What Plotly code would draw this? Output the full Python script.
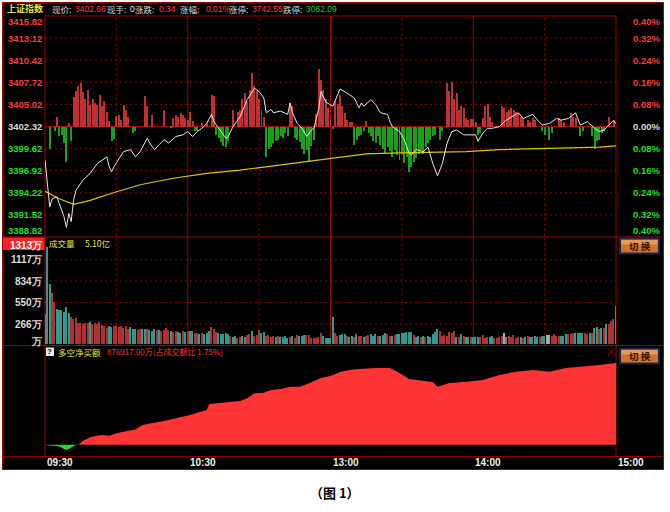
import plotly.graph_objects as go

W, H = 670, 512

# ---------------- data ----------------
time_labels = ["09:30", "10:30", "13:00", "14:00", "15:00"]
time_label_minutes = [0, 60, 120, 180, 240]

prev_close = 3402.32
price_ticks = [3415.82, 3413.12, 3410.42, 3407.72, 3405.02, 3402.32,
               3399.62, 3396.92, 3394.22, 3391.52, 3388.82]
pct_ticks = ["0.40%", "0.32%", "0.24%", "0.16%", "0.08%", "0.00%",
             "0.08%", "0.16%", "0.24%", "0.32%", "0.40%"]

price_minutes = [0, 1, 2, 3, 5, 6, 8, 9, 10, 11, 12, 13, 16, 19, 22, 24, 26, 27, 28, 29,
                 31, 33, 36, 38, 40, 43, 44, 46, 48, 50, 52, 55, 58, 60, 62, 64, 66, 68, 70, 71,
                 74, 76, 77, 79, 82, 85, 88, 90, 92, 93, 95, 96, 99, 102, 103, 104, 106, 108, 110, 112,
                 113, 115, 116, 118, 121, 124, 127, 130, 132, 133, 134, 137, 139, 141, 144, 145, 146, 149, 151, 153,
                 154, 156, 159, 161, 163, 165, 167, 169, 171, 173, 176, 179, 181, 182, 184, 186, 188, 191, 193, 195,
                 199, 201, 205, 207, 209, 212, 215, 217, 220, 223, 225, 228, 231, 233, 235, 237, 239, 240]
price_values = [3398.2, 3394.9, 3392.5, 3393.5, 3393.7, 3392.9, 3391.3, 3390.0, 3391.7, 3390.7,
                3393.3, 3394.5, 3395.8, 3396.6, 3397.8, 3398.2, 3398.6, 3397.4, 3396.8, 3397.4,
                3398.4, 3399.25, 3399.5, 3398.6, 3399.25, 3400.9, 3400.3, 3399.5, 3400.1, 3400.7,
                3400.3, 3401.1, 3401.3, 3401.7, 3401.1, 3401.7, 3402.1, 3402.7, 3403.8, 3402.9,
                3401.7, 3400.9, 3401.1, 3402.3, 3403.5, 3405.6, 3407.0, 3406.6, 3405.8, 3404.0,
                3404.4, 3404.0, 3404.2, 3403.8, 3405.2, 3404.0, 3402.7, 3402.1, 3401.1, 3401.9,
                3402.1, 3404.4, 3406.6, 3405.3, 3404.8, 3406.9, 3406.4, 3405.8, 3404.6, 3405.2,
                3404.8, 3405.6, 3405.0, 3404.0, 3403.8, 3402.9, 3402.3, 3401.7, 3400.7, 3399.05,
                3398.85, 3399.5, 3399.25, 3399.8, 3397.8, 3396.3, 3397.8, 3400.3, 3401.7, 3401.9,
                3401.3, 3401.3, 3401.3, 3400.5, 3401.5, 3402.1, 3402.1, 3402.3, 3402.9, 3403.3,
                3404.0, 3403.3, 3403.8, 3403.1, 3402.5, 3402.7, 3403.3, 3403.1, 3403.3, 3404.0,
                3402.5, 3402.9, 3402.1, 3401.7, 3401.9, 3402.5, 3403.05, 3402.66]

avg_minutes = [0, 6, 12, 19, 30, 40, 54, 68, 82, 96, 110, 121, 135, 149, 163, 177, 191, 205, 219, 233, 240]
avg_values = [3394.4, 3393.5, 3392.8, 3393.3, 3394.35, 3395.2, 3396.0, 3396.6, 3397.0, 3397.5,
              3398.0, 3398.4, 3398.97, 3399.1, 3399.2, 3399.25, 3399.5, 3399.6, 3399.67, 3399.8, 3399.95]

bar_minutes = [2, 4, 5, 6, 7, 8, 9, 10, 11,
               12, 13, 14, 15, 16, 17, 18, 19, 20, 21, 22, 23, 24, 25, 26, 27,
               28, 29, 30, 31, 32, 33, 34, 35, 37, 38, 42, 43, 45, 50, 53,
               54, 55, 56, 57, 58, 59, 60, 61, 62, 63, 64, 66, 68, 70, 71,
               72, 73, 74, 75, 76, 77, 79,
               81, 82, 83, 84, 85, 86, 87, 88, 89, 90, 91, 92,
               93, 94, 95, 96, 97, 98, 99, 100, 101, 102, 103, 104,
               105, 106, 107, 108, 109, 110, 111, 112, 113,
               114, 115, 116, 117, 118, 119, 120, 121,
               122, 123, 124, 125, 126, 127, 128, 129,
               130, 131, 132, 133, 134, 135,
               136, 137, 138, 139, 140, 141, 142, 143, 144, 145, 146, 147, 148, 149, 150, 151,
               152, 153, 154, 155, 156, 157, 158, 159, 160, 161, 162, 163, 164, 166, 167,
               169, 170, 171, 172, 173, 174, 175, 176, 177, 178, 179, 180, 181, 182, 183,
               184, 185, 186, 187, 188,
               192, 193, 194, 195, 196, 197, 198, 199, 200, 201, 203, 204, 205, 206,
               209, 210, 212, 213, 216, 217, 218, 221, 222, 223, 225, 226,
               230, 231, 232, 233, 234, 235, 237, 239]
bar_values = [-2.8, -0.6, 1.2, -1.2, -1.0, -2.0, -4.3, 0.4, -1.8,
              3.6, 4.3, 4.9, 5.3, 4.2, 3.3, 4.4, 2.6, 3.3, 2.9, 2.6, 3.9, 2.5, 3.1, 1.8, 0.7,
              -1.8, -1.5, 1.3, 1.4, 0.8, 2.6, 2.0, 1.2, -0.8, -0.6, 3.7, 2.5, 1.4, 2.0, -0.2,
              1.0, 1.4, 1.2, 1.6, 1.4, 1.0, 0.8, 1.8, 0.7, -0.6, -0.6, 0.4, 0.4, 3.9, 3.7,
              -1.0, -1.4, -1.9, -2.4, -2.5, -1.8, 2.0,
              1.8, 2.0, 3.3, 4.1, 3.0, 4.5, 6.5, 5.0, 4.3, 3.3, 2.0, 1.2,
              -3.7, -2.7, -2.5, -2.0, -1.8, -1.6, -1.2, -1.4, -0.8, -1.2, 2.9, 2.5,
              -1.4, -1.6, -1.9, -2.7, -3.3, -2.9, -4.3, -2.4, -1.6,
              1.5, 7.0, 5.7, 4.5, 3.3, 2.3, 1.2, -0.3,
              3.1, 2.7, 3.9, 2.5, 1.6, 0.8, 0.5, 0.5,
              -2.2, -1.6, -1.2, -1.0, -0.6, 0.7,
              -0.8, -1.2, -1.8, -2.0, -1.2, -2.2, -2.7, -3.3, -2.5, -3.0, -3.7, -2.9, -3.5, -4.1, -3.3, -4.5,
              -3.7, -5.5, -4.9, -4.3, -3.9, -3.3, -2.9, -3.3, -2.5, -2.0, -1.6, -1.2, -1.0, -1.6, -0.6,
              5.3, 4.3, 5.4, 3.3, 4.1, 2.0, 2.5, 2.3, 1.0, 0.8, 0.9, 0.9, 0.6, -1.0, -0.8,
              1.0, 2.5, 2.7, 1.2, 0.6,
              2.5, 2.3, 1.8, 2.0, 2.3, 2.0, 1.8, 1.6, 1.2, 1.0, 0.8, 0.6, 1.0, 0.8,
              -0.6, -1.0, -1.6, -0.8, 1.0, 0.8, 0.6, 1.6, 1.2, 1.0, -1.2, -0.6,
              -1.2, -2.7, -1.8, -1.6, -0.8, -0.6, 1.2, 0.8]

# per-minute volume (万) and direction: r = up (red), t = down (teal), g = flat (grey)
volume = [402, 1290, 800, 670, 560, 470, 450, 445, 425, 485, 405, 360,
          327, 340, 284, 284, 271, 284, 284, 297, 271, 284, 266, 293, 258, 245, 213, 240, 227, 245,
          240, 227, 240, 213, 235, 205, 227, 196, 205, 192, 196, 205, 205, 205, 183, 170, 196, 183,
          192, 170, 183, 213, 192, 170, 161, 174, 161, 153, 170, 161, 178, 170, 178, 153, 148, 140,
          153, 140, 148, 170, 227, 205, 161, 153, 140, 135, 148, 140,
          109, 96, 109, 87, 96, 109, 96, 118, 131, 175, 109, 122, 183, 153, 166, 109, 118, 96, 109, 96,
          109, 96, 96, 109, 79, 96, 109, 87, 122, 109, 109, 122, 118, 118, 87, 79, 87, 96, 144, 109,
          87, 79, 87, 358, 144, 109, 122, 131, 131, 109, 100, 109, 96, 131, 109, 109, 96, 109, 122, 131,
          109, 131, 109, 109, 122, 153, 131, 109, 109, 118, 140, 140,
          144, 153, 166, 166, 166, 122, 100, 109, 100, 109, 100, 109, 100, 131, 166, 196, 175, 109, 118, 113,
          161, 144, 175, 100, 100, 131, 109, 100, 96, 100, 100, 100, 100, 100, 118, 87, 100, 100, 109, 87,
          87, 100, 109, 144, 100, 109, 100, 118, 87, 100, 100, 87, 100, 109, 100, 100, 109, 100, 100, 109,
          109, 118, 118, 109, 131, 109, 109, 109, 109, 131, 131, 140, 153, 153, 153, 153, 153, 144, 140, 153,
          153, 218, 227, 205, 218, 214, 271, 262, 300, 327, 510]
volume_dir = ("tttrrttttttr"
              "rrrrrrrtrr" "rrrrrttrrr" "rrrrtttrrt" "trtttrtrrr" "rtrrttrtrt" "trrtrtttrr" "rttttt"
              "rttrrttrrt" "rrrttrrrrt" "rttttrtrrt" "ttrrrrrrrt" "ttttrrtttr" "ttrtrrtrrt" "ttrtttrrtr" "tt"
              "tttttrttrt" "rtttttrrrr" "rrrtrtrttr" "tttrrrrttr" "rrrgtrrrrr" "trtrttttrt" "tggrrrrttt"
              "rrrttttrrt" "rttrtrtrrr" "t")
vol_ticks = [1313, 1117, 834, 550, 266]
vol_title = "成交量"
vol_total = "5.10亿"

net_minutes = [0, 1, 4, 6, 8, 9, 10, 11, 12, 13, 14, 16, 19, 22, 24, 27, 30, 33, 36, 38,
               41, 44, 47, 50, 52, 55, 58, 61, 64, 66, 68, 69, 74, 78, 82, 85, 88, 92, 95, 99,
               103, 107, 111, 116, 120, 124, 128, 132, 139, 145, 149, 153, 160, 163, 165, 167, 170, 176, 184, 191,
               198, 205, 212, 219, 226, 233, 239, 240]
net_values = [0, -5000, -10000, -20000, -45000, -57000, -45000, -25000, -15000, -5000, 0,
              43000, 79000, 96000, 104000, 96000, 122000, 139000, 150000, 164000,
              211000, 229000, 240000, 253000, 264000, 282000, 299000, 318000, 342000, 353000,
              371000, 435000, 449000, 457000, 467000, 496000, 550000, 556000, 585000, 596000,
              620000, 620000, 657000, 713000, 735000, 778000, 800000, 810000, 820000, 820000,
              767000, 703000, 681000, 670000, 620000, 638000, 660000, 670000, 692000, 745000,
              780000, 800000, 780000, 820000, 834000, 852000, 870000, 876917]
net_title = "多空净买额"
net_text = "876917.00万(占成交额比 1.75%)"

index_name = "上证指数"
header_labels = ["现价:", "现手:", "涨跌:", "涨幅:", "涨停:", "跌停:"]
header_values = ["3402.66", "0", "0.34", "0.01%", "3742.55", "3062.09"]
header_value_colors = ["#ff3c3c", "#e8e8e8", "#ff3c3c", "#ff3c3c", "#ff3c3c", "#20d020"]
caption = "（图 1）"

assert len(volume) == 241 and len(volume_dir) == 241
assert len(price_minutes) == len(price_values)
assert len(bar_minutes) == len(bar_values)
assert len(net_minutes) == len(net_values)

# ---------------- styling ----------------
RED_TXT = "#ff3c3c"
GRN_TXT = "#20e020"
WHT_TXT = "#dcdcdc"
YEL_TXT = "#e6e640"
FRAME = "#a00000"
GRID = "#9a0000"
NUM_FONT = "Liberation Sans, Arial, sans-serif"
CJK_FONT = "Noto Sans CJK SC, sans-serif"

PL, PR = 45, 616           # plot area left/right (px)
P_TOP, P_BOT = 16, 237     # price panel
V_BOT = 345.5              # volume panel bottom
N_BOT = 456.7              # net panel bottom


def xp(px):
    return px / W


def yp(py):
    return 1 - py / H


fig = go.Figure()

vcol = {"r": "#b33030", "t": "#2e9a92", "g": "#a8a8a8"}
fig.add_trace(go.Bar(x=list(range(len(volume))), y=volume, yaxis="y2",
                     marker=dict(color=[vcol[c] for c in volume_dir], line=dict(width=0)),
                     width=0.62, hoverinfo="skip"))
fig.add_trace(go.Bar(x=bar_minutes, y=bar_values, base=prev_close, yaxis="y",
                     marker=dict(color=["#c03030" if v > 0 else "#18a018" for v in bar_values],
                                 line=dict(width=0)),
                     width=0.42, hoverinfo="skip"))
fig.add_trace(go.Scatter(x=avg_minutes, y=avg_values, mode="lines", yaxis="y",
                         line=dict(color="#d8c800", width=1.2), hoverinfo="skip"))
fig.add_trace(go.Scatter(x=price_minutes, y=price_values, mode="lines", yaxis="y",
                         line=dict(color="#e8e8e8", width=1), hoverinfo="skip"))
fig.add_trace(go.Scatter(x=net_minutes, y=[max(v, 0) for v in net_values], mode="lines", yaxis="y3",
                         fill="tozeroy", fillcolor="#ff3434", line=dict(width=0, color="#ff3434"),
                         hoverinfo="skip"))
fig.add_trace(go.Scatter(x=net_minutes, y=[min(v, 0) for v in net_values], mode="lines", yaxis="y3",
                         fill="tozeroy", fillcolor="#22dd22", line=dict(width=0, color="#22dd22"),
                         hoverinfo="skip"))

shapes = []
# black background
shapes.append(dict(type="rect", xref="paper", yref="paper", x0=xp(2), x1=xp(664), y0=yp(470), y1=yp(2),
                   fillcolor="black", line=dict(width=0), layer="below"))


def hline(y, x0, x1, color=FRAME, dash="solid", yref="paper", width=1):
    shapes.append(dict(type="line", xref="paper", yref=yref, x0=xp(x0), x1=xp(x1), y0=y, y1=y,
                       line=dict(color=color, width=width, dash=dash), layer="below"))


def vline_px(x, y0, y1, color=FRAME, width=1):
    shapes.append(dict(type="line", xref="paper", yref="paper", x0=xp(x), x1=xp(x), y0=yp(y0), y1=yp(y1),
                       line=dict(color=color, width=width), layer="below"))


# price panel horizontal grid
for v in price_ticks[1:-1]:
    if v == prev_close:
        hline(v, PL, PR, color="#b00000", yref="y")
    else:
        hline(v, PL, PR, color=GRID, dash="2px,3px", yref="y")
# volume panel horizontal grid
for v in vol_ticks[1:]:
    hline(v, PL, PR, color=GRID, dash="2px,3px", yref="y2")
# vertical grid (price + volume panels)
for m in [30, 60, 90, 120, 150, 180, 210]:
    solid = m % 60 == 0
    shapes.append(dict(type="line", xref="x", yref="paper", x0=m, x1=m, y0=yp(V_BOT), y1=yp(P_TOP),
                       line=dict(color=FRAME if solid else GRID, width=1,
                                 dash="solid" if solid else "2px,3px"), layer="below"))

# frames
hline(yp(P_TOP), PL, PR)
hline(yp(P_BOT), 2, 664)
hline(yp(V_BOT), 2, 664)
hline(yp(N_BOT), 2, 664)
vline_px(PL, P_TOP, N_BOT)
vline_px(PR, P_TOP, N_BOT)
vline_px(2.5, 2, 470)
vline_px(663.5, 2, 470)
hline(yp(2.5), 2, 664)
hline(yp(469.5), 2, 664)

# red label box for volume max
shapes.append(dict(type="rect", xref="paper", yref="paper", x0=xp(3), x1=xp(44.5), y0=yp(250), y1=yp(237.5),
                   fillcolor="#ff2020", line=dict(width=0)))

# buttons
for (by0, by1) in [(238.5, 253.5), (348.5, 363.5)]:
    shapes.append(dict(type="rect", xref="paper", yref="paper", x0=xp(620), x1=xp(659), y0=yp(by1), y1=yp(by0),
                       fillcolor="#cf7430", line=dict(color="#1c2448", width=2)))
    shapes.append(dict(type="rect", xref="paper", yref="paper", x0=xp(621.5), x1=xp(657.5),
                       y0=yp(by0 + 6), y1=yp(by0 + 1.5), fillcolor="#e69a5a", line=dict(width=0)))

# help icon & close mark
shapes.append(dict(type="rect", xref="paper", yref="paper", x0=xp(46), x1=xp(54), y0=yp(356), y1=yp(347.5),
                   fillcolor="#f0f0f0", line=dict(width=0)))
shapes.append(dict(type="line", xref="paper", yref="paper", x0=xp(607.5), x1=xp(615.5), y0=yp(348), y1=yp(356),
                   line=dict(color="#b00000", width=1)))
shapes.append(dict(type="line", xref="paper", yref="paper", x0=xp(607.5), x1=xp(615.5), y0=yp(356), y1=yp(348),
                   line=dict(color="#b00000", width=1)))

ann = []


def text(x, y, s, color, size=10, anchor="left", font=NUM_FONT, bold=True, xref="paper", yref="paper",
         yshift=0, vanchor="middle"):
    ann.append(dict(x=x, y=y, xref=xref, yref=yref, text=s, showarrow=False, xanchor=anchor,
                    yanchor=vanchor, yshift=yshift,
                    font=dict(family=font, size=size, color=color, weight="bold" if bold else "normal")))


last = len(price_ticks) - 1
for i, (v, p) in enumerate(zip(price_ticks, pct_ticks)):
    c = RED_TXT if v > prev_close else (GRN_TXT if v < prev_close else WHT_TXT)
    ys = -5 if i == 0 else (7 if i == last else 0)
    text(xp(43.5), v, f"{v:.2f}", c, size=9.5, anchor="right", yref="y", yshift=ys)
    text(xp(662), v, p, c, size=9.5, anchor="right", yref="y", yshift=ys)

for v in vol_ticks:
    text(xp(43.5), v, f"{v}万", "#ffffff" if v == vol_ticks[0] else WHT_TXT, size=10, anchor="right",
         yref="y2", yshift=-1 if v == vol_ticks[0] else 0)
text(xp(43.5), yp(341.5), "万", WHT_TXT, size=10, anchor="right")

for m, lab in zip(time_label_minutes, time_labels):
    text(m, yp(462), lab, "#f0f0f0", size=10, anchor="left", xref="x")

# header
text(xp(5), yp(8.5), index_name, YEL_TXT, size=9, font=CJK_FONT)
header_label_x = [50, 105, 133, 178, 227, 281]
header_value_x = [73, 128, 157, 204, 250, 304]
for lx, vx, lab, val, col in zip(header_label_x, header_value_x, header_labels, header_values,
                                 header_value_colors):
    text(xp(lx), yp(8.5), lab, "#d8d8d8", size=8.5, font=CJK_FONT, bold=False)
    text(xp(vx), yp(8.5), val, col, size=8.5, font=NUM_FONT, bold=False)

text(xp(47), yp(243), vol_title, YEL_TXT, size=8.5, font=CJK_FONT, bold=False)
text(xp(83), yp(243), vol_total, YEL_TXT, size=8.5, font=CJK_FONT, bold=False)

text(xp(50), yp(351.8), "?", "#000000", size=8, anchor="center")
text(xp(56), yp(351.8), net_title, YEL_TXT, size=8.5, font=CJK_FONT, bold=False)
text(xp(105), yp(351.8), net_text, "#ff3030", size=8, font=CJK_FONT, bold=False)

for by in [246, 356]:
    text(xp(639.5), yp(by), "切 换", "#2a1200", size=9.5, anchor="center", font=CJK_FONT)

text(0.5, yp(492), caption, "#000000", size=13, anchor="center", font=CJK_FONT)

fig.update_layout(
    width=W, height=H, margin=dict(l=0, r=0, t=0, b=0, pad=0), autosize=False,
    paper_bgcolor="white", plot_bgcolor="rgba(0,0,0,0)", showlegend=False,
    barmode="overlay", bargap=0,
    xaxis=dict(domain=[xp(PL), xp(PR)], range=[0, 240], visible=False, fixedrange=True),
    yaxis=dict(domain=[yp(P_BOT), yp(P_TOP)], range=[3388.82, 3415.82], visible=False, fixedrange=True),
    yaxis2=dict(domain=[yp(V_BOT), yp(P_BOT)], range=[-18.5, 1417], visible=False, fixedrange=True),
    yaxis3=dict(domain=[yp(N_BOT), yp(V_BOT)], range=[-128000, 1061000], visible=False, fixedrange=True),
    shapes=shapes, annotations=ann,
)

fig.write_html("out.html", config={"displayModeBar": False},
               post_script="document.body.style.margin='0';document.body.style.padding='0';"
                           "document.documentElement.style.overflow='hidden';")
